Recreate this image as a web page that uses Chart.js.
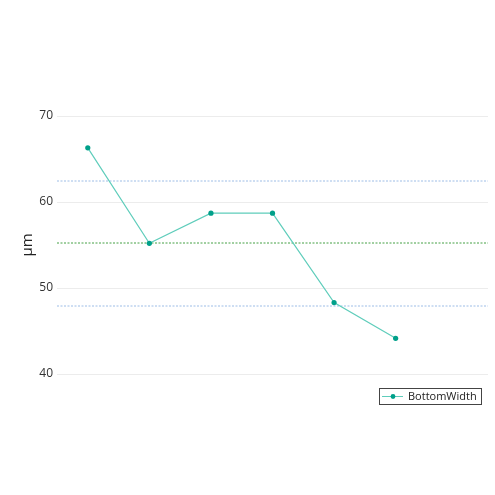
<!DOCTYPE html>
<html><head><meta charset="utf-8">
<script src="https://cdn.jsdelivr.net/npm/chart.js@4"></script>
<style>html,body{margin:0;padding:0;background:#fff}#wrap{width:495px;height:495px}</style>
</head><body><div id="wrap"><canvas id="c" width="495" height="495"></canvas></div>
<script>
const positions = [1, 2, 3, 4, 5, 6];
const bottomWidth = [66.3, 55.2, 58.7, 58.7, 48.3, 44.15];
const seriesLabel = 'BottomWidth';
const meanValue = 55.2;
const upperLimit = 62.45;
const lowerLimit = 47.95;
const yTicks = [40, 50, 60, 70];
const xRange = [0.5, 7.5];
const yTitle = 'µm';

const mainData = positions.map((x, i) => ({x, y: bottomWidth[i]}));
const refLines = [
  {value: upperLimit, color: '#9dbde6'},
  {value: meanValue, color: '#45a045'},
  {value: lowerLimit, color: '#9dbde6'}
];

const refLinePlugin = {
  id: 'refLines',
  beforeDatasetsDraw(chart) {
    const ctx = chart.ctx, a = chart.chartArea, ys = chart.scales.y;
    ctx.save();
    ctx.lineWidth = 1;
    ctx.setLineDash([2, 1.5]);
    refLines.forEach(r => {
      const py = Math.round(ys.getPixelForValue(r.value));
      ctx.strokeStyle = r.color;
      ctx.beginPath(); ctx.moveTo(a.left, py); ctx.lineTo(a.right, py); ctx.stroke();
    });
    ctx.restore();
  }
};

const legendBox = {
  id: 'legendBox',
  afterDraw(chart) {
    const ctx = chart.ctx, a = chart.chartArea;
    const ds = chart.data.datasets[0];
    ctx.save();
    ctx.font = '11px "Open Sans", sans-serif';
    const tw = ctx.measureText(ds.label).width;
    const h = 16, w = Math.round(tw + 33);
    const x = Math.round(a.right - 7 - w), y = Math.round(a.bottom + 14);
    ctx.fillStyle = '#fff';
    ctx.fillRect(x, y, w, h);
    ctx.strokeStyle = '#444'; ctx.lineWidth = 1;
    ctx.strokeRect(x + 0.5, y + 0.5, w, h);
    const cy = y + h/2 + 0.5;
    ctx.strokeStyle = ds.borderColor; ctx.lineWidth = 1;
    ctx.beginPath(); ctx.moveTo(x+3, cy); ctx.lineTo(x+24, cy); ctx.stroke();
    ctx.fillStyle = ds.pointBackgroundColor;
    ctx.beginPath(); ctx.arc(x+14, cy, 2.4, 0, Math.PI*2); ctx.fill();
    ctx.fillStyle = '#222'; ctx.textBaseline = 'middle';
    ctx.fillText(ds.label, x+29, cy);
    ctx.restore();
  }
};

new Chart(document.getElementById('c'), {
  type: 'line',
  data: {
    datasets: [
      {label: seriesLabel, data: mainData, borderColor: '#5fcdbb', borderWidth: 1.2,
       pointBackgroundColor: '#00a08a', pointBorderColor: '#00a08a', pointRadius: 2.6, pointBorderWidth: 0, tension: 0}
    ]
  },
  options: {
    responsive: false, animation: false, devicePixelRatio: 1,
    layout: {padding: {top: 116, right: 7, bottom: 121, left: 19}},
    plugins: {legend: {display: false}, tooltip: {enabled: false}},
    scales: {
      x: {type: 'linear', min: xRange[0], max: xRange[1], display: false},
      y: {
        min: yTicks[0], max: yTicks[yTicks.length-1],
        afterBuildTicks(s) { s.ticks = yTicks.map(v => ({value: v})); },
        afterFit(s) { s.width = 38; },
        grid: {color: '#ececec', drawTicks: false},
        border: {display: false},
        ticks: {padding: 4, color: '#333', font: {size: 12, family: '"Open Sans", sans-serif'}},
        title: {display: true, text: yTitle, color: '#222', font: {size: 15, family: '"Open Sans", sans-serif'}, padding: 0}
      }
    }
  },
  plugins: [refLinePlugin, legendBox]
});
</script></body></html>
